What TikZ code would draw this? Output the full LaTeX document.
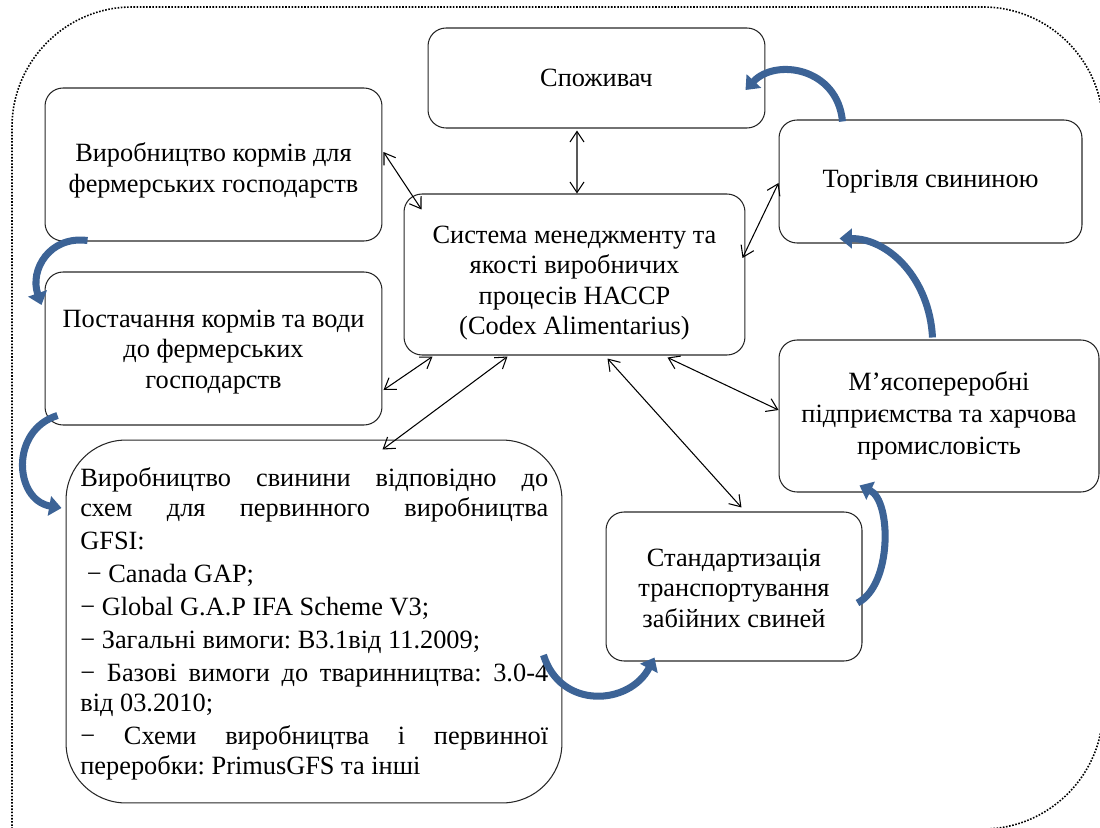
\documentclass[tikz,border=0pt]{standalone}
\usepackage{fontspec}
\setmainfont{Liberation Serif}
\usetikzlibrary{arrows.meta,calc}
\definecolor{flowblue}{RGB}{60,99,150}
\newcommand{\fullline}[1]{\makebox[9.36cm][s]{\spaceskip=0pt\xspaceskip=0pt #1}}
\newcommand{\topgap}[1]{\rule{0pt}{#1}}
\begin{document}
\begin{tikzpicture}[x=0.02cm,y=-0.02cm,
 box/.style={draw=black!85, line width=0.6pt, rounded corners=0.36cm, align=center,
   font=\fontsize{15}{17.4}\selectfont, inner sep=0pt},
 biarrow/.style={{Straight Barb[length=6pt,width=8pt]}-{Straight Barb[length=6pt,width=8pt]}, line width=0.6pt},
 flow/.style={draw=flowblue, line width=4pt, -{Triangle[length=7pt,width=11pt]}},
 outline/.style={line width=0.9pt, dash pattern=on 0.9pt off 0.9pt}]
\useasboundingbox (0,0) rectangle (1100,828);

% outer dotted frame
\draw[outline] (12,829) -- (12,127) .. controls (12,61) and (66,7) .. (132,7)
  -- (983,7) .. controls (1049,7) and (1103,61) .. (1103,127)
  -- (1103,709) .. controls (1103,775) and (1049,829) .. (983,829) -- (12,829);

% boxes
\node[box, minimum width=6.74cm, minimum height=2.0cm] (spozh) at (596.5,78) {Споживач};
\node[box, minimum width=6.74cm, minimum height=3.06cm] (korm) at (213.5,164.5)
  {\topgap{17.4pt}Виробництво кормів для\\фермерських господарств};
\node[box, minimum width=6.06cm, minimum height=2.46cm] (torg) at (930.5,181.5) {Торгівля свининою};
\node[box, minimum width=6.82cm, minimum height=3.22cm] (sys) at (574.5,274.5)
  {\topgap{19.6pt}Система менеджменту та\\якості виробничих\\процесів НАССР\\(Codex Alimentarius)};
\node[box, minimum width=6.74cm, minimum height=3.06cm] (post) at (213.5,348.5)
  {\topgap{14pt}Постачання кормів та води\\до фермерських\\господарств};
\node[box, minimum width=6.4cm, minimum height=3.04cm] (myas) at (939,416)
  {М’ясопереробні\\[1pt]підприємства та харчова\\[1pt]промисловість};
\node[box, minimum width=5.12cm, minimum height=2.98cm] (stand) at (734,586.5)
  {\topgap{12pt}Стандартизація\\транспортування\\забійних свиней};
\node[box, rounded corners=1.2cm, minimum width=9.92cm, minimum height=7.26cm] (svyn) at (314,621.5) {};
\node[anchor=north west, inner sep=0pt, text width=9.36cm, align=left,
  font=\fontsize{15}{17}\selectfont] (svyntext) at (80,467) {%
\spaceskip=0pt\xspaceskip=0pt\frenchspacing
\fullline{Виробництво свинини відповідно до}\\
\fullline{схем для первинного виробництва}\\[1.8pt]
GFSI:\\[1.8pt]
\hspace{0.25em}− Canada GAP;\\[1.8pt]
− Global G.A.P IFA Scheme V3;\\[1.8pt]
− Загальні вимоги: В3.1від 11.2009;\\[1.8pt]
\fullline{− Базові вимоги до тваринництва: 3.0-4}\\
від 03.2010;\\[1.8pt]
\fullline{− Схеми виробництва і первинної}\\
переробки: PrimusGFS та інші};

% double-headed connectors
\draw[biarrow] ($(spozh.south)+(-19.5,2)$) -- ($(sys.north)+(2.5,0)$);
\draw[biarrow] ($(korm.east)+(1,-12.5)$) -- ($(sys.north west)+(18,16)$);
\draw[biarrow] ($(sys.east)+(-3,-16.5)$) -- ($(torg.west)+(0,1.5)$);
\draw[biarrow] ($(sys.south west)+(29,1)$) -- ($(post.east)+(1,41.5)$);
\draw[biarrow] ($(sys.south west)+(104,1)$) -- ($(svyn.north west)+(317,10)$);
\draw[biarrow] ($(sys.south west)+(264,2)$) -- ($(myas.west)+(0,-6)$);
\draw[biarrow] ($(sys.south west)+(204,3)$) -- ($(stand.north west)+(136,-4)$);

% blue flow arrows
\draw[flow] ($(korm.south west)+(43,-1)$) .. controls +(-38,-5) and +(-12,-35) .. ($(post.west)+(-3,-43.5)$);
\draw[flow] ($(post.south west)+(13,-10)$) .. controls +(-48,15) and +(-47,-8) .. ($(svyn.west)+(-4,-113.5)$);
\draw[flow] ($(svyn.east)+(-19,33.5)$) .. controls +(17,55) and +(-25,48) .. ($(stand.south west)+(49,-4)$);
\draw[flow] ($(stand.east)+(-5,16.5)$) .. controls +(35,-18) and +(32,15) .. ($(myas.south west)+(81,-7)$);
\draw[flow] ($(myas.north west)+(154,-2)$) .. controls +(-3,-58) and +(50,0) .. ($(torg.south west)+(61,-5)$);
\draw[flow] ($(torg.north west)+(64,2)$) .. controls +(-5,-54) and +(30,-32) .. ($(spozh.east)+(-20,12)$);
\end{tikzpicture}
\end{document}
